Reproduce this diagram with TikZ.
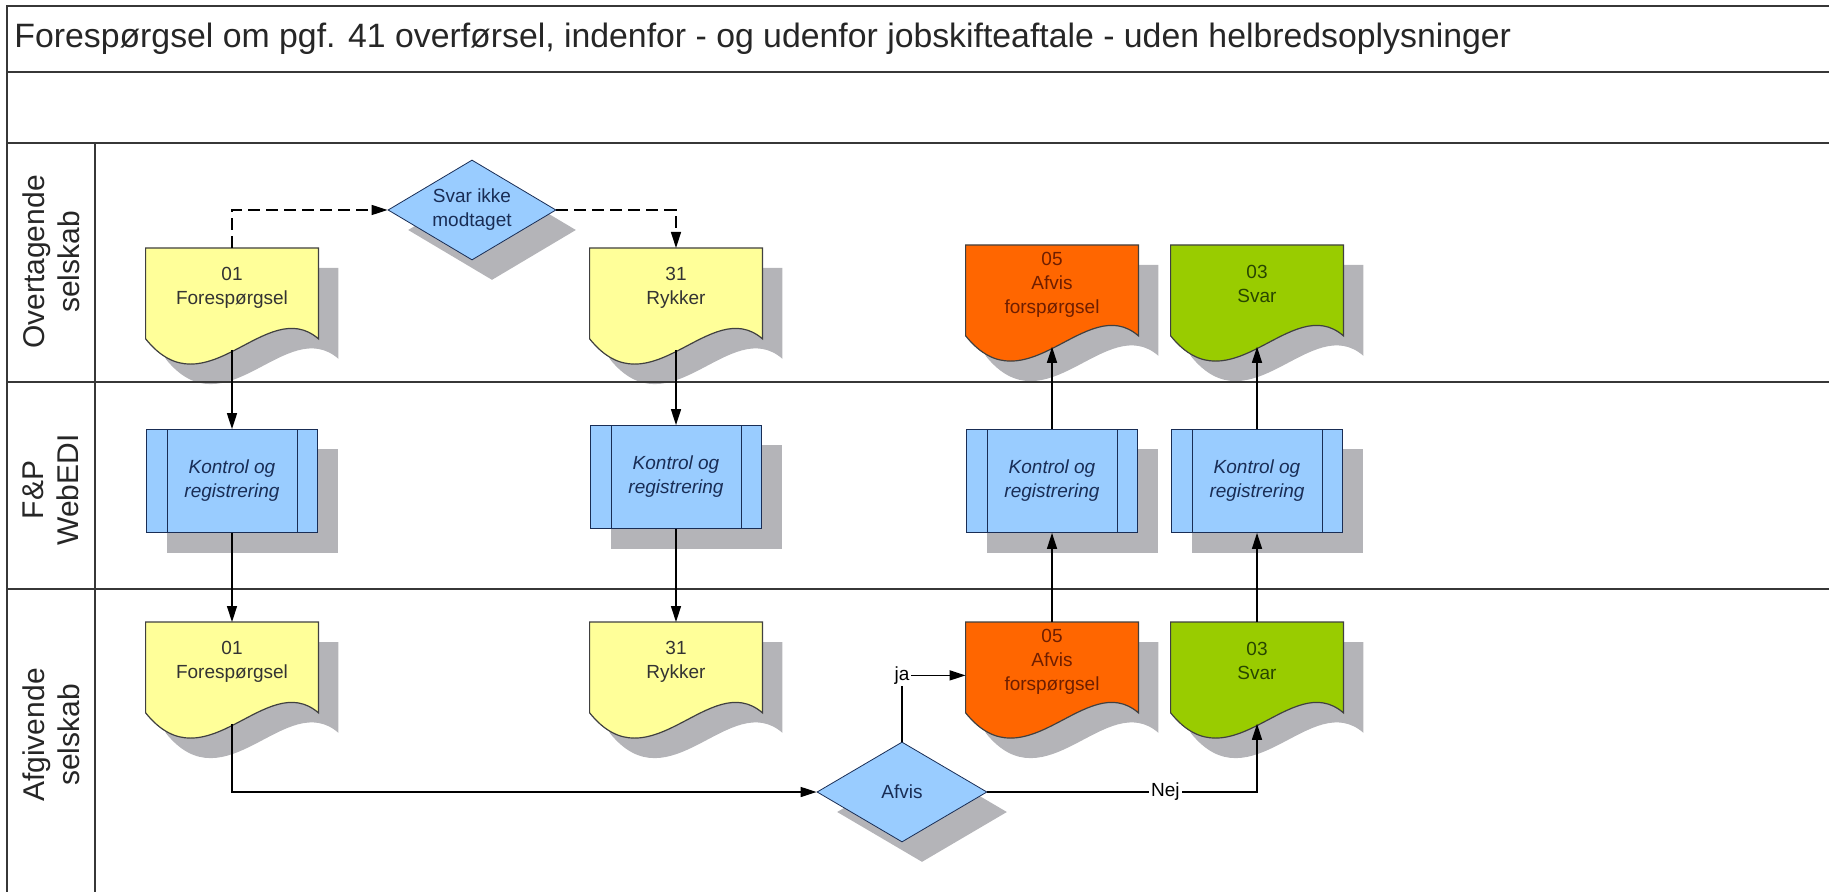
\documentclass[tikz,border=0pt]{standalone}
\usepackage{fontspec}
\setmainfont{Liberation Sans}
\usetikzlibrary{positioning,arrows.meta,shapes.geometric,shadows,backgrounds}
\definecolor{docyellow}{RGB}{255,255,153}
\definecolor{procblue}{RGB}{153,204,255}
\definecolor{rejorange}{RGB}{255,102,0}
\definecolor{ansgreen}{RGB}{153,204,0}
\definecolor{shadowgray}{RGB}{180,180,184}
\definecolor{navy}{RGB}{25,45,85}
\definecolor{rulegray}{RGB}{55,55,55}
\begin{document}
\begin{tikzpicture}
        [x=0.5pt,y=-0.5pt,
        every node/.style={inner sep=2pt, font=\fontsize{9.5}{12}\selectfont},
        doc/.style={anchor=north, minimum width=86pt, minimum height=39pt, align=center, text=black!80},
        kontrol/.style={rectangle, draw=navy, fill=procblue, minimum width=85.5pt, minimum height=51.5pt,
          align=center, text=navy, font=\fontsize{9.5}{12}\selectfont\itshape,
          drop shadow={shadow xshift=10pt, shadow yshift=-10pt, fill=shadowgray, opacity=1}},
        beslut/.style={diamond, draw=navy, fill=procblue, aspect=1.7, inner sep=0pt,
          minimum width=84pt, minimum height=50pt, align=center, text=navy,
          drop shadow={shadow xshift=10pt, shadow yshift=-10pt, fill=shadowgray, opacity=1}},
        lane/.style={rotate=90, align=center, font=\fontsize{15}{17.5}\selectfont, text=black!85},
        flow/.style={draw=black, line width=0.7pt, -{Triangle[length=8pt,width=5pt]}},
        lbl/.style={fill=white, inner sep=1pt},
        ]
        \useasboundingbox (0,0) rectangle (1829,892);

        \draw[rulegray, line width=1.2pt] (7,892) -- (7,6) -- (1829,6);
        \draw[rulegray, line width=1.2pt] (7,72) -- (1829,72);
        \draw[rulegray, line width=1pt] (7,143) -- (1829,143);
        \draw[rulegray, line width=1pt] (95,143) -- (95,892);
        \draw[rulegray, line width=1pt] (7,382) -- (1829,382);
        \draw[rulegray, line width=1pt] (7,589) -- (1829,589);

        \node[anchor=west, font=\fontsize{16.9}{20}\selectfont, text=black!85] (titel) at (10,39)
          {Forespørgsel om pgf. 41 overførsel, indenfor - og udenfor jobskifteaftale - uden helbredsoplysninger};

        \node[lane] (ovt) at (51,262) {Overtagende\\selskab};
        \node[lane] (edi) at (51,490) {F\&P\\WebEDI};
        \node[lane] (afg) at (51,735) {Afgivende\\selskab};

        \node[doc] (fq1) at (232,248) {01\\Forespørgsel};
        \node[doc] (ry1) at (676,248) {31\\Rykker};
        \node[doc, text={rgb,255:red,110;green,30;blue,0}] (af1) at (1052,245) {05\\Afvis\\forspørgsel};
        \node[doc, text={rgb,255:red,40;green,70;blue,0}] (sv1) at (1257,245) {03\\Svar};

        \node[kontrol] (kt1) at (232,481) {Kontrol og\\registrering};
        \node[kontrol] (kt2) at (676,477) {Kontrol og\\registrering};
        \node[kontrol] (kt3) at (1052,481) {Kontrol og\\registrering};
        \node[kontrol] (kt4) at (1257,481) {Kontrol og\\registrering};

        \node[doc] (fq2) at (232,622) {01\\Forespørgsel};
        \node[doc] (ry2) at (676,622) {31\\Rykker};
        \node[doc, text={rgb,255:red,110;green,30;blue,0}] (af2) at (1052,622) {05\\Afvis\\forspørgsel};
        \node[doc, text={rgb,255:red,40;green,70;blue,0}] (sv2) at (1257,622) {03\\Svar};

        \node[beslut] (ikke) at (472,210) {Svar ikke\\modtaget};
        \node[beslut, minimum width=85pt] (afvis) at (902,792) {Afvis};

        \foreach \n in {kt1,kt2,kt3,kt4}
          \draw[navy] ([xshift=10.5pt]\n.north west) -- ([xshift=10.5pt]\n.south west)
            ([xshift=-10.5pt]\n.north east) -- ([xshift=-10.5pt]\n.south east);

        \begin{pgfonlayer}{background}
        \foreach \n/\c in {fq1/docyellow, ry1/docyellow, af1/rejorange, sv1/ansgreen,
                           fq2/docyellow, ry2/docyellow, af2/rejorange, sv2/ansgreen}{
          \fill[shadowgray, transform canvas={shift={(10pt,-10pt)}}]
            (\n.north west) -- (\n.north east) -- ([yshift=-6pt]\n.south east)
            .. controls +(-26pt,22.5pt) and +(30pt,-37.5pt) .. ([yshift=-6pt]\n.south west) -- cycle;
          \filldraw[fill=\c, draw=black!75, line width=0.6pt]
            (\n.north west) -- (\n.north east) -- ([yshift=-6pt]\n.south east)
            .. controls +(-26pt,22.5pt) and +(30pt,-37.5pt) .. ([yshift=-6pt]\n.south west) -- cycle;
        }
        \end{pgfonlayer}

        \foreach \n in {fq1,ry1,af1,sv1,fq2,ry2,af2,sv2}
          \coordinate (\n-w) at ([yshift=-11.5pt]\n.south);

        \draw[flow, dash pattern=on 6pt off 3pt] (fq1.north) |- (ikke.west);
        \draw[flow, dash pattern=on 6pt off 3pt] (ikke.east) -| (ry1.north);
        \draw[flow] (fq1-w) -- (kt1.north);
        \draw[flow] (kt1.south) -- (fq2.north);
        \draw[flow] (ry1-w) -- (kt2.north);
        \draw[flow] (kt2.south) -- (ry2.north);
        \draw[flow] (af2.north) -- (kt3.south);
        \draw[flow] (kt3.north) -- (af1-w);
        \draw[flow] (sv2.north) -- (kt4.south);
        \draw[flow] (kt4.north) -- (sv1-w);
        \draw[flow] (fq2-w) |- (afvis.west);
        \draw[flow] (afvis.north) |- node[lbl] (ja) {ja} ([yshift=-7pt]af2.west);
        \draw[flow] (afvis.east) -| node[lbl, pos=0.33] (nej) {Nej} (sv2-w);
\end{tikzpicture}
\end{document}
